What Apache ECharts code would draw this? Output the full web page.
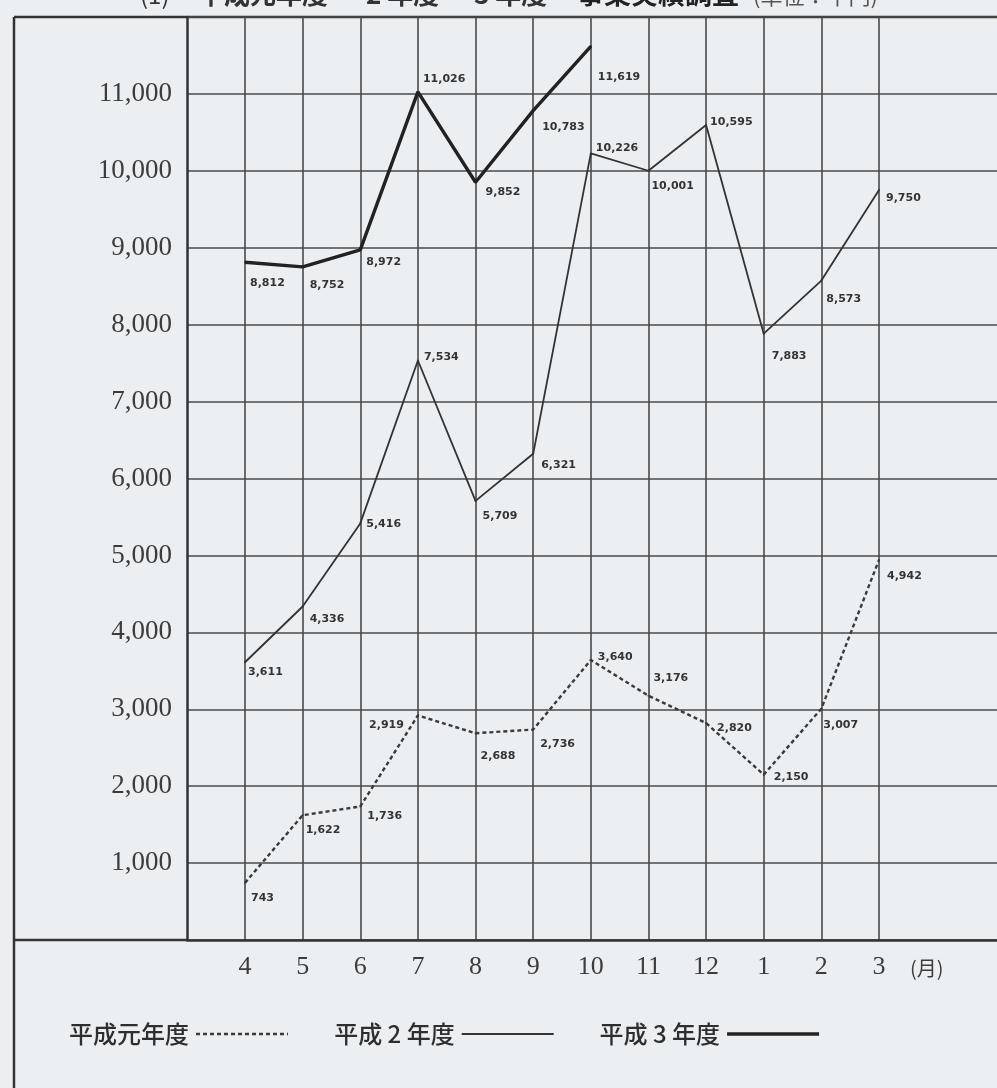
<!DOCTYPE html>
<html>
<head>
<meta charset="utf-8">
<script src="https://cdn.jsdelivr.net/npm/echarts@6/dist/echarts.min.js"></script>
<style>
  html, body { margin: 0; padding: 0; background: #eceff2; }
  #chart { width: 997px; height: 1088px; }
</style>
</head>
<body>
<div id="chart"></div>
<script>
// 月 (fiscal year order, April to March)
const months = ['4', '5', '6', '7', '8', '9', '10', '11', '12', '1', '2', '3'];

// 事業実績 (単位：千円)
const heisei1 = [743, 1622, 1736, 2919, 2688, 2736, 3640, 3176, 2820, 2150, 3007, 4942];
const heisei2 = [3611, 4336, 5416, 7534, 5709, 6321, 10226, 10001, 10595, 7883, 8573, 9750];
const heisei3 = [8812, 8752, 8972, 11026, 9852, 10783, 11619];

const seriesNames = ['平成元年度', '平成 2 年度', '平成 3 年度'];
const yTicks = [0, 1000, 2000, 3000, 4000, 5000, 6000, 7000, 8000, 9000, 10000, 11000, 12000];

// value label placement: [dx, dy] from the point, text starting at the point
const heisei1LabelOff = [[6, 15], [3, 15], [7, 10], [-14, 10], [5, 23], [7, 15], [7, -3], [5, -18], [11, 5], [10, 3], [2, 16], [8, 16]];
const heisei2LabelOff = [[3, 10], [7, 13], [6, 1], [6, -3], [7, 15], [8, 11], [5, -5], [3, 15], [4, -3], [8, 22], [5, 19], [7, 8]];
const heisei3LabelOff = [[5, 21], [7, 18], [6, 12], [5, -13], [10, 10], [9, 17], [7, 31]];

const fmt = v => v.toLocaleString('en-US');

function withLabels(values, offsets) {
  return values.map((v, i) => ({
    value: v,
    label: {
      offset: offsets[i],
      align: offsets[i][0] < 0 ? 'right' : 'left'
    }
  }));
}

const GRID_TOP = 17, GRID_BOTTOM = 148;
const INK = '#3c3c3c';

const lineStyles = [
  { color: '#3a3a3a', width: 2.4, type: [4, 3] },
  { color: '#333', width: 1.8, type: 'solid' },
  { color: '#222', width: 3.4, type: 'solid' }
];

const labelStyle = {
  show: true,
  position: 'inside',
  verticalAlign: 'middle',
  fontFamily: 'DejaVu Sans',
  fontWeight: 'bold',
  fontSize: 11,
  color: '#333',
  formatter: p => fmt(p.value)
};

const chart = echarts.init(document.getElementById('chart'), null, { renderer: 'canvas' });

chart.setOption({
  backgroundColor: '#eceff2',
  animation: false,
  grid: [
    { left: 187, right: 0, top: GRID_TOP, bottom: GRID_BOTTOM },
    { left: 245, right: 118, top: GRID_TOP, bottom: GRID_BOTTOM }
  ],
  xAxis: [
    {
      gridIndex: 0, type: 'value', min: 0, max: 1,
      axisLine: { show: true, onZero: false, lineStyle: { color: '#333', width: 2.5 } },
      axisTick: { show: false }, axisLabel: { show: false }, splitLine: { show: false }
    },
    {
      gridIndex: 1, type: 'category', data: months, boundaryGap: false,
      axisLine: { show: false }, axisTick: { show: false },
      axisLabel: {
        margin: 14, fontFamily: 'Liberation Serif', fontSize: 26, color: INK
      },
      splitLine: { show: true, interval: 0, lineStyle: { color: '#4a4a4a', width: 1.6 } }
    }
  ],
  yAxis: [
    {
      gridIndex: 0, type: 'value', min: yTicks[0], max: yTicks[yTicks.length - 1], interval: 1000,
      axisLine: { show: true, lineStyle: { color: '#333', width: 2.5 } },
      axisTick: { show: false },
      axisLabel: {
        margin: 15, fontFamily: 'Liberation Serif', fontSize: 27, color: INK,
        formatter: v => (v === yTicks[0] || v === yTicks[yTicks.length - 1]) ? '' : fmt(v)
      },
      splitLine: { show: true, lineStyle: { color: '#4a4a4a', width: 1.6 } }
    },
    {
      gridIndex: 1, type: 'value', min: yTicks[0], max: yTicks[yTicks.length - 1], interval: 1000,
      show: false
    }
  ],
  legend: {
    left: 64, top: 1017,
    align: 'right',
    itemWidth: 92, itemHeight: 12, itemGap: 45,
    itemStyle: { opacity: 0 },
    textStyle: { fontFamily: 'Noto Sans CJK JP', fontSize: 24, fontWeight: 500, color: '#2e2e2e', padding: [0, 2, 0, 0] },
    data: seriesNames.map((name, i) => ({ name, lineStyle: lineStyles[i] }))
  },
  series: seriesNames.map((name, i) => ({
    name, type: 'line', xAxisIndex: 1, yAxisIndex: 1,
    data: withLabels([heisei1, heisei2, heisei3][i], [heisei1LabelOff, heisei2LabelOff, heisei3LabelOff][i]),
    symbol: 'circle', symbolSize: 2,
    itemStyle: { color: lineStyles[i].color },
    lineStyle: lineStyles[i],
    label: labelStyle
  })),
  graphic: [
    // page frame to the left of the plot
    { type: 'line', shape: { x1: 14, y1: GRID_TOP, x2: 14, y2: 1088 }, style: { stroke: '#333', lineWidth: 2.5 } },
    { type: 'line', shape: { x1: 14, y1: GRID_TOP, x2: 187, y2: GRID_TOP }, style: { stroke: '#333', lineWidth: 2.5 } },
    { type: 'line', shape: { x1: 14, y1: 940, x2: 187, y2: 940 }, style: { stroke: '#333', lineWidth: 2.5 } },
    { type: 'line', shape: { x1: 187, y1: GRID_TOP, x2: 997, y2: GRID_TOP }, style: { stroke: '#333', lineWidth: 2.5 } },
    // month unit
    { type: 'text', x: 910, y: 968, style: { text: '(月)', fontFamily: 'Noto Sans CJK JP', fontSize: 20, fill: INK, verticalAlign: 'middle' } },
    // heading, running off the top edge
    { type: 'text', x: 140, y: 7, style: { text: '(1)', fontFamily: 'Noto Sans CJK JP', fontSize: 24, fill: '#333', verticalAlign: 'bottom' } },
    { type: 'text', x: 198, y: 7, style: { text: '平成元年度', fontFamily: 'Noto Sans CJK JP', fontWeight: 'bold', fontSize: 26, fill: '#333', verticalAlign: 'bottom' } },
    { type: 'text', x: 366, y: 7, style: { text: '2 年度', fontFamily: 'Noto Sans CJK JP', fontWeight: 'bold', fontSize: 26, fill: '#333', verticalAlign: 'bottom' } },
    { type: 'text', x: 474, y: 7, style: { text: '3 年度', fontFamily: 'Noto Sans CJK JP', fontWeight: 'bold', fontSize: 26, fill: '#333', verticalAlign: 'bottom' } },
    { type: 'text', x: 577, y: 7, style: { text: '事業実績調査', fontFamily: 'Noto Sans CJK JP', fontWeight: 'bold', fontSize: 27, fill: '#222', verticalAlign: 'bottom' } },
    { type: 'text', x: 753, y: 7, style: { text: '(単位：千円)', fontFamily: 'Noto Sans CJK JP', fontSize: 22, fill: '#555', verticalAlign: 'bottom' } }
  ]
});
</script>
</body>
</html>
